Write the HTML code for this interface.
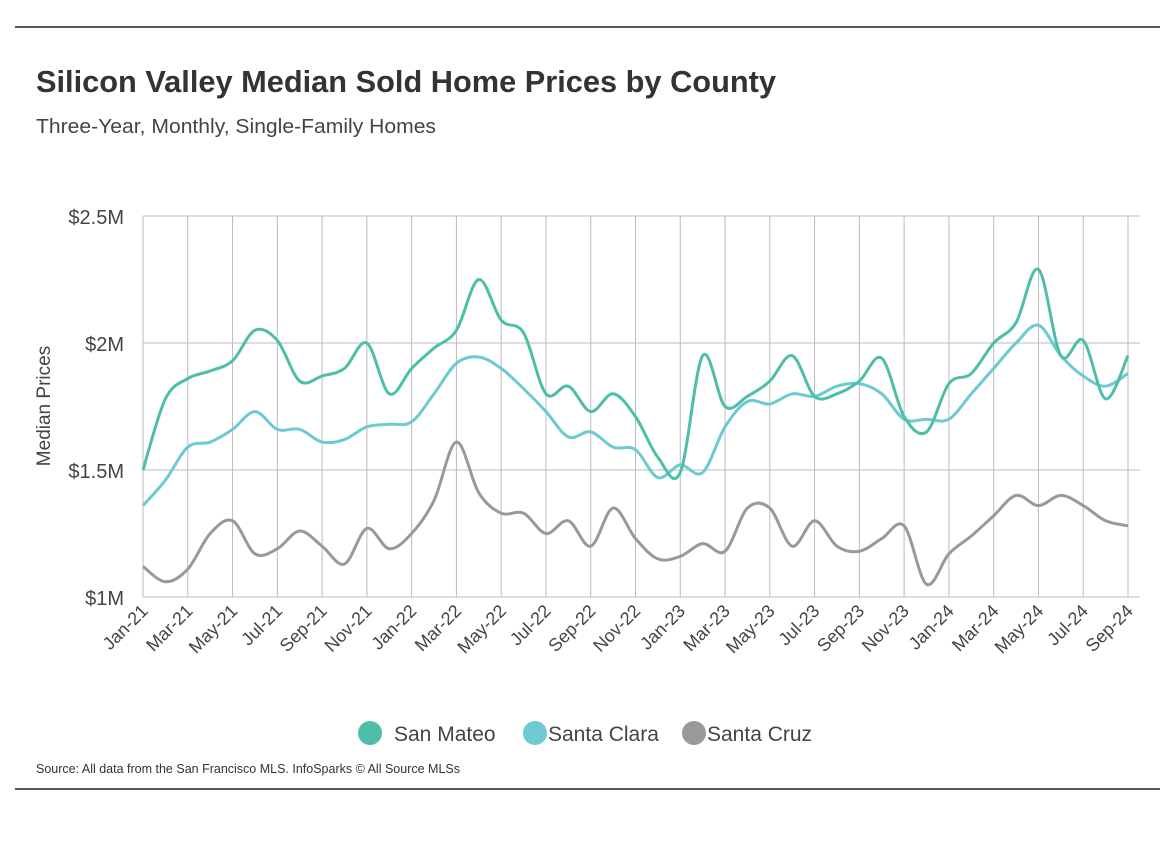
<!DOCTYPE html>
<html><head><meta charset="utf-8"><style>
body{margin:0;background:#fff;width:1176px;height:838px;overflow:hidden;font-family:"Liberation Sans",sans-serif}
</style></head><body>
<svg id="c" width="1176" height="838" xmlns="http://www.w3.org/2000/svg">
<line x1="15" y1="27" x2="1160" y2="27" stroke="#222" stroke-width="1.5"/>
<line x1="15" y1="789" x2="1160" y2="789" stroke="#222" stroke-width="1.5"/>
<text x="36" y="92" font-size="31" font-weight="bold" fill="#333" textLength="740" lengthAdjust="spacingAndGlyphs">Silicon Valley Median Sold Home Prices by County</text>
<text x="36" y="133" font-size="20" fill="#444" textLength="400" lengthAdjust="spacingAndGlyphs">Three-Year, Monthly, Single-Family Homes</text>
<text transform="translate(50,406) rotate(-90)" text-anchor="middle" font-size="19" fill="#444">Median Prices</text>
<g id="grid"></g><g id="lines"></g><g id="labels"></g>
<g>
<circle cx="370" cy="733" r="12" fill="#4dbfa8"/>
<text x="394" y="741" font-size="21" fill="#444">San Mateo</text>
<circle cx="535" cy="733" r="12" fill="#6ccad0"/>
<text x="548" y="741" font-size="21" fill="#444">Santa Clara</text>
<circle cx="694" cy="733" r="12" fill="#999"/>
<text x="707" y="741" font-size="21" fill="#444">Santa Cruz</text>
</g>
<text x="36" y="773" font-size="12.5" fill="#333">Source:  All data from the San Francisco MLS. InfoSparks © All Source MLSs</text>
</svg>
<script>
const months=["Jan-21","Feb-21","Mar-21","Apr-21","May-21","Jun-21","Jul-21","Aug-21","Sep-21","Oct-21","Nov-21","Dec-21","Jan-22","Feb-22","Mar-22","Apr-22","May-22","Jun-22","Jul-22","Aug-22","Sep-22","Oct-22","Nov-22","Dec-22","Jan-23","Feb-23","Mar-23","Apr-23","May-23","Jun-23","Jul-23","Aug-23","Sep-23","Oct-23","Nov-23","Dec-23","Jan-24","Feb-24","Mar-24","Apr-24","May-24","Jun-24","Jul-24","Aug-24","Sep-24"];
const sanMateo=[1.50,1.78,1.86,1.89,1.93,2.05,2.01,1.85,1.87,1.90,2.00,1.80,1.90,1.98,2.05,2.25,2.09,2.04,1.80,1.83,1.73,1.80,1.71,1.55,1.49,1.95,1.75,1.79,1.85,1.95,1.79,1.80,1.85,1.94,1.71,1.65,1.84,1.88,2.00,2.08,2.29,1.95,2.01,1.78,1.95];
const santaClara=[1.36,1.46,1.59,1.61,1.66,1.73,1.66,1.66,1.61,1.62,1.67,1.68,1.69,1.80,1.92,1.945,1.90,1.82,1.73,1.63,1.65,1.59,1.58,1.47,1.52,1.49,1.67,1.77,1.76,1.80,1.79,1.83,1.84,1.80,1.70,1.70,1.70,1.80,1.90,2.00,2.07,1.95,1.87,1.83,1.88];
const santaCruz=[1.12,1.06,1.11,1.25,1.30,1.17,1.19,1.26,1.20,1.13,1.27,1.19,1.25,1.38,1.61,1.41,1.33,1.33,1.25,1.30,1.20,1.35,1.23,1.15,1.16,1.21,1.18,1.35,1.35,1.20,1.30,1.20,1.18,1.23,1.28,1.05,1.17,1.24,1.32,1.40,1.36,1.40,1.36,1.30,1.28];
const yTicks=[1,1.5,2,2.5];
const yTickLabels=["$1M","$1.5M","$2M","$2.5M"];
const NS="http://www.w3.org/2000/svg";
const x=i=>143+(1128-143)*i/(months.length-1);
const y=v=>597-(v-1)*254;
function mk(t,a,p){const e=document.createElementNS(NS,t);for(const k in a)e.setAttribute(k,a[k]);p.appendChild(e);return e;}
const grid=document.getElementById('grid'),lab=document.getElementById('labels'),lines=document.getElementById('lines');
yTicks.forEach((v,k)=>{
 const l=mk('line',{x1:143,x2:1140,y1:y(v),y2:y(v),stroke:'#bbb','stroke-width':1},grid);
 
 
 const t=mk('text',{x:124,y:y(v)+8,'text-anchor':'end','font-size':20,fill:'#444'},lab);
 t.textContent=yTickLabels[k];
 
 
});
months.forEach((m,i)=>{
 if(i%2)return;
 const l=mk('line',{x1:x(i),x2:x(i),y1:216,y2:597,stroke:'#bbb','stroke-width':1},grid);
 
 
 const t=mk('text',{transform:`translate(${x(i)+6},${612}) rotate(-45)`,'text-anchor':'end','font-size':18,fill:'#444'},lab);
 t.textContent=m;
 
 
});
function path(d){
 const p=d.map((v,i)=>[x(i),y(v)]);let s=`M${p[0][0]},${p[0][1]}`;
 for(let i=0;i<p.length-1;i++){const p0=p[i-1]||p[i],p1=p[i],p2=p[i+1],p3=p[i+2]||p2;
  s+=` C${p1[0]+(p2[0]-p0[0])/6},${p1[1]+(p2[1]-p0[1])/6} ${p2[0]-(p3[0]-p1[0])/6},${p2[1]-(p3[1]-p1[1])/6} ${p2[0]},${p2[1]}`;}
 return s;}
[[santaCruz,'#999','santa-cruz-line'],[santaClara,'#6ccad0','santa-clara-line'],[sanMateo,'#4dbfa8','san-mateo-line']].forEach(([d,c,n])=>{
 const e=mk('path',{d:path(d),fill:'none',stroke:c,'stroke-width':3,'stroke-linejoin':'round'},lines);
 
 
});
</script>
</body></html>
